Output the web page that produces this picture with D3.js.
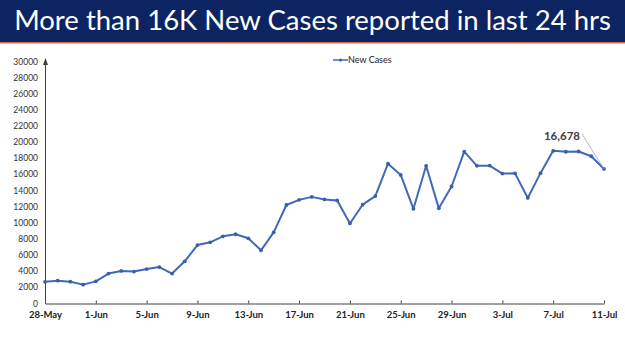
<!DOCTYPE html>
<html>
<head>
<meta charset="utf-8">
<script src="https://cdn.jsdelivr.net/npm/d3@7"></script>
<style>
  body { margin: 0; background: #fff; }
  svg { display: block; }
</style>
</head>
<body>
<div id="chart"></div>
<script>
// daily new cases, 28-May to 11-Jul
const startDate = "2022-05-28";
const newCases = [
  2685, 2828, 2706, 2338, 2745, 3712, 4041, 3962, 4270, 4518,
  3714, 5233, 7240, 7584, 8329, 8582, 8084, 6594, 8822, 12213,
  12847, 13216, 12899, 12781, 9923, 12249, 13313, 17336, 15940, 11739,
  17073, 11793, 14506, 18819, 17070, 17092, 16103, 16135, 13086, 16159,
  18930, 18815, 18840, 18257, 16678
];
const yTicks = [0, 2000, 4000, 6000, 8000, 10000, 12000, 14000, 16000, 18000, 20000, 22000, 24000, 26000, 28000, 30000];
const titleText = "More than 16K New Cases reported in last 24 hrs";
const seriesName = "New Cases";

const width = 625, height = 351;
const parse = d3.timeParse("%Y-%m-%d");
const day0 = parse(startDate);
const data = newCases.map((v, i) => ({ date: d3.timeDay.offset(day0, i), value: v }));

const svg = d3.select("#chart").append("svg")
    .attr("width", width)
    .attr("height", height);

// title bar
svg.append("rect")
    .attr("x", 0).attr("y", 0)
    .attr("width", width).attr("height", 42)
    .attr("fill", "#0c2462");
svg.append("rect")
    .attr("x", 0).attr("y", 42)
    .attr("width", width).attr("height", 1.5)
    .attr("fill", "#e0673f");
let title = svg.append("text")
    .attr("x", width / 2)
    .attr("y", 30)
    .attr("text-anchor", "middle")
    .style("font-family", "Lato, 'Open Sans', sans-serif")
    .style("font-size", "25px")
    .style("fill", "#fff")
    .text(titleText);
let tw = title.node().getComputedTextLength();
title.style("font-size", (25 * 597 / tw) + "px");

let x = d3.scaleTime()
    .domain([day0, data[data.length - 1].date])
    .range([45, 604]);
let y = d3.scaleLinear()
    .domain([0, 30000])
    .range([303.5, 61.5]);

const labelFont = "Lato, 'Liberation Sans', sans-serif";

// y axis labels
svg.append("g").selectAll("text")
    .data(yTicks)
    .enter()
    .append("text")
    .attr("x", 38)
    .attr("y", d => y(d) + 3)
    .attr("text-anchor", "end")
    .style("font-family", labelFont)
    .style("font-size", "8.5px")
    .style("fill", "#333")
    .text(d => d);

// y axis line with arrow
svg.append("line")
    .attr("x1", 45.5).attr("x2", 45.5)
    .attr("y1", y(0)).attr("y2", 60)
    .style("stroke", "#404040")
    .style("stroke-width", 1);
svg.append("path")
    .attr("d", "M45.5,58 L43,65 L48,65 Z")
    .attr("fill", "#404040");

// x axis
let xTickDates = d3.range(0, newCases.length, 4).map(i => d3.timeDay.offset(day0, i));
let axisX = d3.axisBottom(x)
    .tickValues(xTickDates)
    .tickSizeInner(-3)
    .tickSizeOuter(0)
    .tickPadding(8)
    .tickFormat(d3.timeFormat("%-d-%b"));
let gx = svg.append("g")
    .attr("transform", "translate(0," + y(0) + ")")
    .call(axisX);
gx.select(".domain").style("stroke", "#404040");
gx.selectAll(".tick line").style("stroke", "#404040");
gx.selectAll("text")
    .style("font-family", labelFont)
    .style("font-size", "9.5px")
    .style("font-weight", "bold")
    .style("fill", "#222");

// series line
let line = d3.line()
    .x(d => x(d.date))
    .y(d => y(d.value));
svg.append("path")
    .datum(data)
    .attr("d", line)
    .attr("fill", "none")
    .style("stroke", "#4169b8")
    .style("stroke-width", 2)
    .style("stroke-linejoin", "round");
svg.append("g").selectAll("circle")
    .data(data)
    .enter()
    .append("circle")
    .attr("cx", d => x(d.date))
    .attr("cy", d => y(d.value))
    .attr("r", 1.9)
    .attr("fill", "#3a5fa8");

// legend
let legend = svg.append("g").attr("transform", "translate(333,60)");
legend.append("line")
    .attr("x1", 0).attr("x2", 15)
    .attr("y1", 0).attr("y2", 0)
    .style("stroke", "#4169b8")
    .style("stroke-width", 1.5);
legend.append("circle")
    .attr("cx", 7.5).attr("cy", 0).attr("r", 1.5)
    .attr("fill", "#3a5fa8");
legend.append("text")
    .attr("x", 15)
    .attr("y", 3)
    .style("font-family", labelFont)
    .style("font-size", "9px")
    .style("fill", "#222")
    .text(seriesName);

// last value annotation
let last = data[data.length - 1];
svg.append("line")
    .attr("x1", 582).attr("y1", 134)
    .attr("x2", x(last.date)).attr("y2", y(last.value))
    .style("stroke", "#a6a6a6")
    .style("stroke-width", 0.8);
svg.append("text")
    .attr("x", 580)
    .attr("y", 140)
    .attr("text-anchor", "end")
    .style("font-family", labelFont)
    .style("font-size", "11.5px")
    .style("font-weight", "bold")
    .style("fill", "#404040")
    .text(d3.format(",")(last.value));
</script>
</body>
</html>
